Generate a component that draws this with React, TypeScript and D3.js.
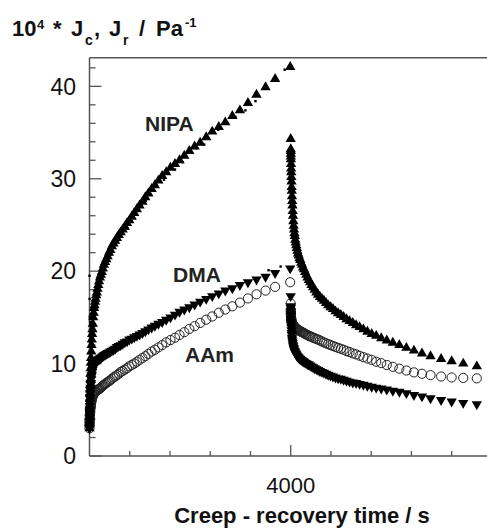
import React from "react";
import * as d3 from "d3";

// ---------- DATA ----------
const creepTimes = [
  0, 1, 2, 3, 4, 5, 7, 9, 11, 13,
  16, 19, 22, 26, 30, 35, 40, 46, 52, 59,
  66, 74, 82, 91, 100, 110, 121, 133, 146, 160,
  175, 191, 208, 226, 245, 265, 287, 310, 334, 360,
  387, 415, 445, 477, 510, 545, 582, 620, 660, 702,
  746, 792, 840, 890, 942, 996, 1052, 1110, 1170, 1235,
  1300, 1370, 1445, 1525, 1610, 1700, 1790, 1885, 1985, 2090,
  2200, 2320, 2440, 2570, 2700, 2840, 2990, 3150, 3320, 3500,
  3690, 3990,
];

const nipaCreep = [
  3.0, 3.6, 4.2, 4.7, 5.2, 5.5, 6.2, 6.8, 7.2, 7.7,
  8.3, 8.9, 9.5, 10.1, 10.6, 11.3, 12.0, 12.6, 13.2, 13.7,
  14.3, 15.0, 15.5, 16.0, 16.3, 16.7, 17.0, 17.4, 17.7, 18.1,
  18.5, 18.9, 19.3, 19.6, 19.9, 20.3, 20.7, 21.0, 21.3, 21.6,
  22.0, 22.3, 22.7, 23.0, 23.3, 23.6, 23.9, 24.2, 24.5, 24.8,
  25.2, 25.5, 25.9, 26.3, 26.7, 27.1, 27.5, 28.0, 28.4, 28.9,
  29.3, 29.8, 30.3, 30.7, 31.2, 31.6, 32.0, 32.5, 33.0, 33.5,
  33.9, 34.5, 35.1, 35.6, 36.1, 36.8, 37.4, 38.2, 39.1, 39.9,
  40.8, 42.1,
];

const dmaCreep = [
  3.0, 3.4, 3.8, 4.2, 4.6, 4.9, 5.4, 5.8, 6.2, 6.4,
  6.8, 7.1, 7.4, 7.7, 7.9, 8.3, 8.6, 8.8, 9.1, 9.3,
  9.5, 9.6, 9.8, 9.9, 10.0, 10.1, 10.15, 10.2, 10.3, 10.35,
  10.4, 10.5, 10.55, 10.6, 10.7, 10.8, 10.9, 10.95, 11.05, 11.15,
  11.2, 11.3, 11.4, 11.5, 11.6, 11.8, 11.9, 12.0, 12.15, 12.3,
  12.4, 12.6, 12.7, 12.85, 13.0, 13.15, 13.3, 13.5, 13.7, 13.9,
  14.1, 14.3, 14.5, 14.75, 15.0, 15.3, 15.6, 15.85, 16.1, 16.4,
  16.7, 17.0, 17.3, 17.6, 17.9, 18.15, 18.5, 18.8, 19.1, 19.4,
  19.8, 20.3,
];

const aamCreep = [
  3.0, 3.3, 3.5, 3.7, 3.9, 4.0, 4.3, 4.4, 4.6, 4.7,
  4.9, 5.2, 5.3, 5.5, 5.6, 5.8, 6.0, 6.1, 6.25, 6.4,
  6.5, 6.6, 6.7, 6.75, 6.8, 6.9, 6.95, 7.0, 7.1, 7.15,
  7.2, 7.25, 7.3, 7.4, 7.5, 7.6, 7.7, 7.8, 7.9, 8.0,
  8.1, 8.2, 8.35, 8.5, 8.6, 8.75, 8.9, 9.1, 9.2, 9.35,
  9.5, 9.7, 9.85, 10.0, 10.2, 10.4, 10.6, 10.8, 11.05, 11.3,
  11.5, 11.75, 12.0, 12.3, 12.55, 12.8, 13.1, 13.4, 13.75, 14.05,
  14.4, 14.75, 15.1, 15.5, 15.85, 16.2, 16.6, 17.05, 17.5, 17.9,
  18.3, 18.8,
];

const recoveryTimes = [
  4000, 4001, 4002, 4003, 4004, 4005, 4007, 4009, 4011, 4013,
  4016, 4019, 4022, 4026, 4030, 4035, 4040, 4046, 4052, 4059,
  4066, 4074, 4082, 4091, 4100, 4110, 4121, 4133, 4146, 4160,
  4175, 4191, 4208, 4226, 4245, 4265, 4287, 4310, 4334, 4360,
  4387, 4415, 4445, 4477, 4510, 4545, 4582, 4620, 4660, 4702,
  4746, 4792, 4840, 4890, 4942, 4996, 5052, 5110, 5170, 5235,
  5300, 5370, 5445, 5525, 5610, 5700, 5800, 5910, 6030, 6160,
  6300, 6450, 6610, 6780, 6990, 7200, 7430, 7700,
];

const nipaRecovery = [
  34.3, 33.2, 33.0, 32.7, 32.4, 32.1, 31.6, 31.1, 30.7, 30.2,
  29.7, 29.1, 28.7, 28.1, 27.6, 27.1, 26.5, 26.0, 25.4, 24.9,
  24.5, 24.1, 23.8, 23.4, 23.1, 22.8, 22.5, 22.2, 21.9, 21.7,
  21.4, 21.2, 20.9, 20.7, 20.4, 20.2, 19.9, 19.6, 19.3, 19.05,
  18.8, 18.5, 18.25, 18.0, 17.7, 17.45, 17.2, 17.0, 16.8, 16.55,
  16.3, 16.1, 15.9, 15.65, 15.45, 15.25, 15.05, 14.8, 14.6, 14.4,
  14.15, 13.95, 13.7, 13.45, 13.2, 13.0, 12.75, 12.5, 12.25, 12.0,
  11.7, 11.4, 11.1, 10.8, 10.5, 10.25, 10.0, 9.7,
];

const dmaRecovery = [
  17.3, 16.2, 16.0, 15.7, 15.4, 15.2, 14.8, 14.5, 14.2, 13.9,
  13.6, 13.3, 13.1, 12.8, 12.6, 12.4, 12.2, 12.0, 11.85, 11.7,
  11.55, 11.4, 11.3, 11.2, 11.1, 11.0, 10.9, 10.8, 10.7, 10.65,
  10.55, 10.5, 10.4, 10.35, 10.25, 10.2, 10.1, 10.05, 9.95, 9.9,
  9.8, 9.7, 9.6, 9.5, 9.4, 9.3, 9.2, 9.1, 9.0, 8.9,
  8.8, 8.7, 8.6, 8.5, 8.4, 8.35, 8.25, 8.15, 8.05, 7.95,
  7.9, 7.8, 7.7, 7.6, 7.5, 7.4, 7.3, 7.2, 7.05, 6.95,
  6.8, 6.6, 6.45, 6.25, 6.05, 5.9, 5.75, 5.6,
];

const aamRecovery = [
  16.5, 15.8, 15.6, 15.4, 15.3, 15.2, 15.0, 14.9, 14.8, 14.7,
  14.6, 14.5, 14.45, 14.4, 14.35, 14.3, 14.25, 14.2, 14.15, 14.1,
  14.05, 14.0, 13.95, 13.9, 13.85, 13.8, 13.75, 13.7, 13.65, 13.6,
  13.55, 13.5, 13.45, 13.4, 13.35, 13.3, 13.2, 13.15, 13.1, 13.0,
  12.95, 12.9, 12.8, 12.75, 12.65, 12.6, 12.5, 12.4, 12.3, 12.2,
  12.1, 12.0, 11.9, 11.8, 11.7, 11.6, 11.5, 11.35, 11.25, 11.1,
  11.0, 10.85, 10.7, 10.55, 10.4, 10.2, 10.05, 9.85, 9.65, 9.45,
  9.25, 9.05, 8.9, 8.75, 8.6, 8.5, 8.45, 8.4,
];

// small dots (second measurement) near the NIPA and DMA curves
const dotTimes = [0, 3, 6, 12, 170, 420, 760, 1120, 1480, 1700, 1850, 2120, 2280, 2560, 2900, 3100, 3300, 3700, 3880];
const dotValues = [19.5, 17.0, 15.0, 14.5, 17.2, 21.8, 24.6, 27.6, 29.9, 31.0, 31.8, 33.3, 33.7, 35.3, 36.7, 37.4, 38.4, 41.0, 41.8];
const dmaDotTimes = [3560, 3800];
const dmaDotValues = [20.1, 20.5];

const yTicksMajor = [0, 10, 20, 30, 40];
const xTickLabels = [4000];

// ---------- CHART ----------
export default function App() {
  const W = 487, H = 528;
  const x = d3.scaleLinear().domain([0, 8000]).range([89.5, 491.9]);
  const y = d3.scaleLinear().domain([0, 43.1]).range([456, 57.7]);

  const triUp = d3.symbol().type(d3.symbolTriangle).size(46)()!;
  const ink = "#000";
  const axis = "#555";

  const minorY = d3.range(0, 43.1, 2);
  const minorX = d3.range(800, 8000, 800);

  const pts = (ts: number[], vs: number[]) => ts.map((t, i) => [x(t), y(vs[i])] as [number, number]);

  const up = (p: [number, number][], key: string) =>
    p.map(([px, py], i) => <path key={key + i} d={triUp} transform={`translate(${px},${py})`} fill={ink} />);
  const down = (p: [number, number][], key: string) =>
    p.map(([px, py], i) => <path key={key + i} d={triUp} transform={`translate(${px},${py}) rotate(180)`} fill={ink} />);
  const circ = (p: [number, number][], key: string) =>
    p.map(([px, py], i) => <circle key={key + i} cx={px} cy={py} r={4.6} fill="none" stroke="#222" strokeWidth={1} />);
  const dots = (p: [number, number][], key: string) =>
    p.map(([px, py], i) => <rect key={key + i} x={px - 1.2} y={py - 1.2} width={2.4} height={2.4} fill={ink} />);

  const fontFam = "'Liberation Sans', Arial, Helvetica, sans-serif";

  return (
    <div style={{ position: "absolute", left: 0, top: 0 }}>
      <svg width={W} height={H} style={{ display: "block", background: "#fff" }} fontFamily={fontFam}>
        {/* title */}
        <text y={36} fontSize={22} fontWeight="bold" fill="#111">
          <tspan x={12}>10</tspan>
          <tspan x={37} y={29} fontSize={13}>4</tspan>
          <tspan x={53} y={36}>*</tspan>
          <tspan x={71} y={36}>J</tspan>
          <tspan x={85} y={45} fontSize={14}>c</tspan>
          <tspan x={94} y={36}>,</tspan>
          <tspan x={109} y={36}>J</tspan>
          <tspan x={123} y={45} fontSize={14}>r</tspan>
          <tspan x={139} y={36}>/</tspan>
          <tspan x={156} y={36}>Pa</tspan>
          <tspan x={185} y={27} fontSize={13}>-1</tspan>
        </text>

        {/* frame */}
        <line x1={89.5} x2={89.5} y1={57.7} y2={456} stroke={axis} strokeWidth={1.5} />
        <line x1={89.5} x2={W} y1={456} y2={456} stroke={axis} strokeWidth={1.5} />
        <line x1={89.5} x2={W} y1={57.7} y2={57.7} stroke={axis} strokeWidth={1.5} />

        {/* y ticks */}
        {minorY.map((v) => (
          <line key={"ym" + v} x1={89.5} x2={89.5 + (v % 10 === 0 ? 12 : 6)} y1={y(v)} y2={y(v)} stroke={axis} strokeWidth={1.3} />
        ))}
        {yTicksMajor.map((v) => (
          <text key={"yl" + v} x={76} y={y(v)} dy="0.36em" textAnchor="end" fontSize={23} fill="#111">{v}</text>
        ))}

        {/* x ticks */}
        {minorX.map((v) => (
          <line key={"xm" + v} x1={x(v)} x2={x(v)} y1={456} y2={456 - (v % 4000 === 0 ? 11 : 5)} stroke={axis} strokeWidth={1.3} />
        ))}
        {xTickLabels.map((v) => (
          <text key={"xl" + v} x={x(v)} y={493} textAnchor="middle" fontSize={22} fill="#111">{v}</text>
        ))}
        <text x={302} y={523} textAnchor="middle" fontSize={22} fontWeight="bold" fill="#111">Creep - recovery time / s</text>

        {/* series */}
        {circ(pts(creepTimes, aamCreep), "ac")}
        {circ(pts(recoveryTimes, aamRecovery), "ar")}
        {down(pts(creepTimes, dmaCreep), "dc")}
        {down(pts(recoveryTimes, dmaRecovery), "dr")}
        {up(pts(creepTimes, nipaCreep), "nc")}
        {up(pts(recoveryTimes, nipaRecovery), "nr")}
        {dots(pts(dotTimes, dotValues), "nd")}
        {dots(pts(dmaDotTimes, dmaDotValues), "dd")}

        {/* series labels */}
        <text x={145} y={131} fontSize={21} fontWeight="bold" fill="#222">NIPA</text>
        <text x={173} y={282} fontSize={21} fontWeight="bold" fill="#222">DMA</text>
        <text x={185} y={362} fontSize={21} fontWeight="bold" fill="#222">AAm</text>
      </svg>
    </div>
  );
}
